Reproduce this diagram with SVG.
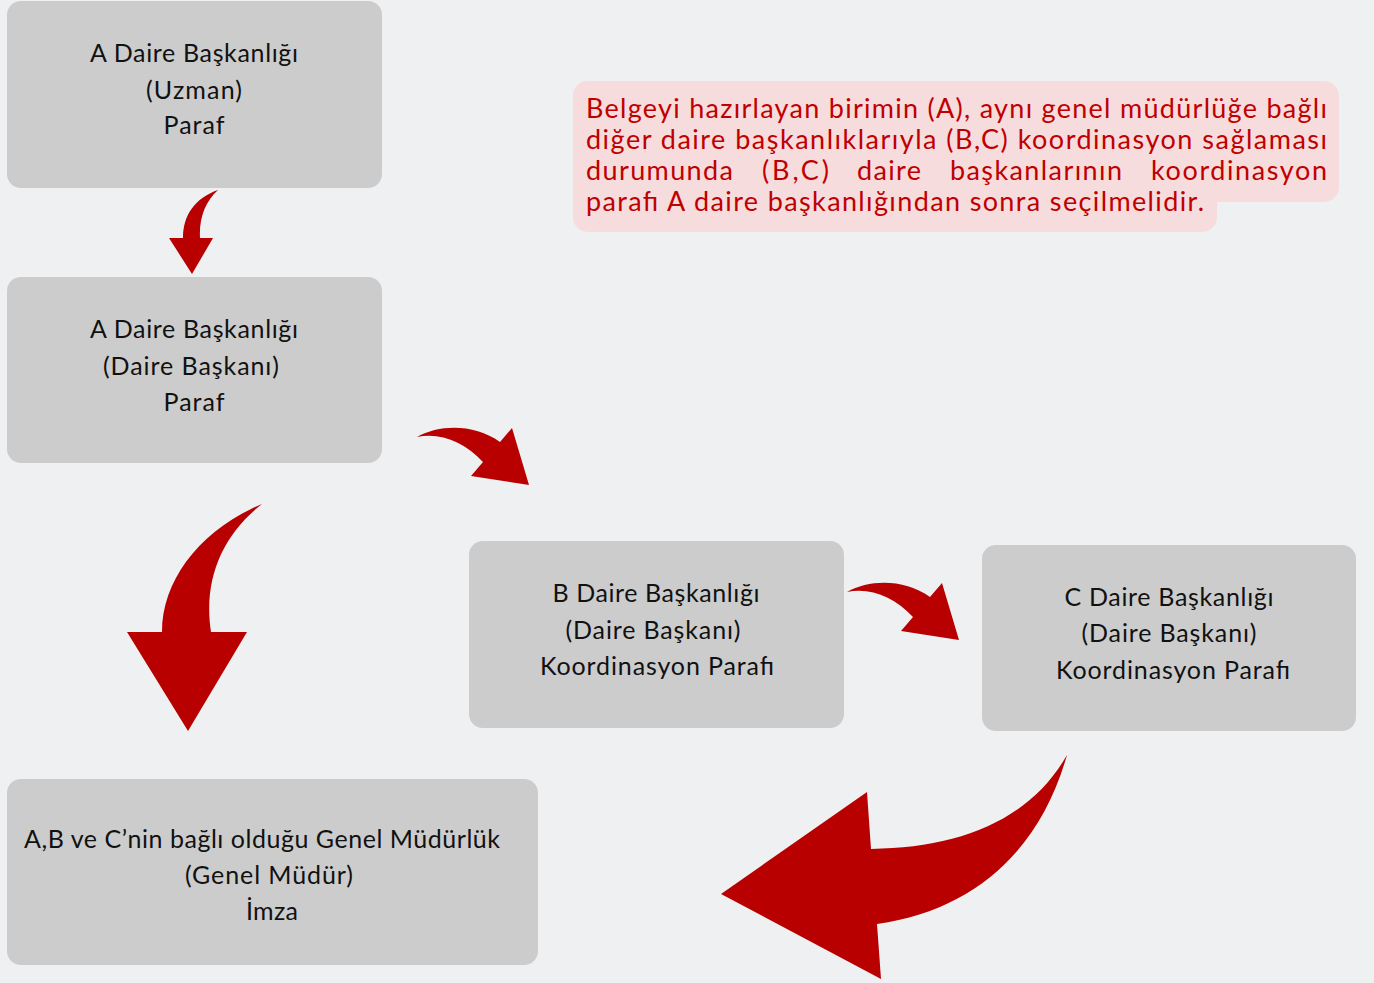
<svg xmlns="http://www.w3.org/2000/svg" xmlns:xlink="http://www.w3.org/1999/xlink" width="1374" height="983" viewBox="0 0 1374 983">
<style>
.node{fill:#CCCCCC}
.lbl{font-family:Lato,"Liberation Sans",sans-serif;font-size:25px;fill:#111111;text-anchor:middle}
.note{font-family:Lato,"Liberation Sans",sans-serif;font-size:27px;fill:#C00000}
.arrow{fill:#B90000}
</style>
<defs>
<path id="sideArrow" d="M417,437 C440,424 475,424 500,442 L512,428 L529,485 L471,476 L483,462 C465,442 440,432 417,437 Z"/>
</defs>
<rect width="1374" height="983" fill="#EFF0F2"/>

<g id="note">
<rect x="573" y="81" width="766" height="121" rx="15" fill="#F6DCDD"/>
<rect x="573" y="81" width="644" height="151" rx="15" fill="#F6DCDD"/>
<text class="note" x="586" y="118" textLength="741">Belgeyi hazırlayan birimin (A), aynı genel müdürlüğe bağlı</text>
<text class="note" x="586" y="149" textLength="741">diğer daire başkanlıklarıyla (B,C) koordinasyon sağlaması</text>
<text class="note" x="586" y="180" textLength="147">durumunda</text>
<text class="note" x="762" y="180" textLength="67">(B,C)</text>
<text class="note" x="857" y="180" textLength="64">daire</text>
<text class="note" x="950" y="180" textLength="172">başkanlarının</text>
<text class="note" x="1151" y="180" textLength="176">koordinasyon</text>
<text class="note" x="586" y="211" textLength="618">parafı A daire başkanlığından sonra seçilmelidir.</text>
</g>

<g id="node-a-uzman">
<rect class="node" x="7" y="1" width="375" height="187" rx="14"/>
<text class="lbl" x="194" y="62" textLength="208">A Daire Başkanlığı</text>
<text class="lbl" x="194" y="99" textLength="96">(Uzman)</text>
<text class="lbl" x="194" y="134" textLength="61">Paraf</text>
</g>

<g id="node-a-baskan">
<rect class="node" x="7" y="277" width="375" height="186" rx="14"/>
<text class="lbl" x="194" y="338" textLength="208">A Daire Başkanlığı</text>
<text class="lbl" x="191" y="375" textLength="176">(Daire Başkanı)</text>
<text class="lbl" x="194" y="411" textLength="61">Paraf</text>
</g>

<g id="node-b">
<rect class="node" x="469" y="541" width="375" height="187" rx="14"/>
<text class="lbl" x="656" y="602" textLength="207">B Daire Başkanlığı</text>
<text class="lbl" x="653" y="639" textLength="175">(Daire Başkanı)</text>
<text class="lbl" x="657" y="675" textLength="234">Koordinasyon Parafı</text>
</g>

<g id="node-c">
<rect class="node" x="982" y="545" width="374" height="186" rx="14"/>
<text class="lbl" x="1169" y="606" textLength="209">C Daire Başkanlığı</text>
<text class="lbl" x="1169" y="642" textLength="175">(Daire Başkanı)</text>
<text class="lbl" x="1173" y="679" textLength="234">Koordinasyon Parafı</text>
</g>

<g id="node-gm">
<rect class="node" x="7" y="779" width="531" height="186" rx="14"/>
<text class="lbl" x="262" y="848" textLength="476">A,B ve C’nin bağlı olduğu Genel Müdürlük</text>
<text class="lbl" x="269" y="884" textLength="168">(Genel Müdür)</text>
<text class="lbl" x="272" y="920" textLength="52">İmza</text>
</g>

<g id="connectors">
<path class="arrow" d="M218,190 C195,198 183,215 183,238 L169,238 L192,274 L213,238 L200,238 C199,218 205,202 218,190 Z"/>
<path class="arrow" d="M262,504 C200,530 162,580 162,632 L127,632 L188,731 L247,632 L211,632 C203,580 222,535 262,504 Z"/>
<use class="arrow" xlink:href="#sideArrow"/>
<use class="arrow" xlink:href="#sideArrow" transform="translate(430,155)"/>
<path class="arrow" d="M1067,755 C1030,820 960,848 871,849 L867,792 L721,894 L881,979 L877,924 C975,910 1040,850 1067,755 Z"/>
</g>
</svg>
